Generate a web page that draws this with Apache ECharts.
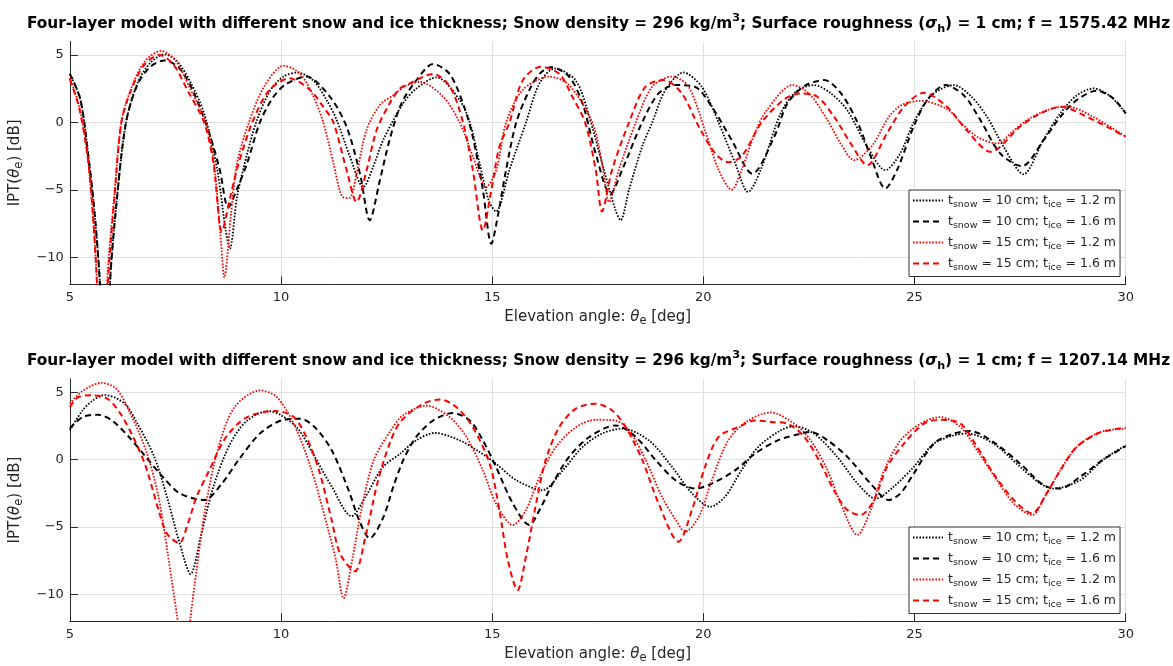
<!DOCTYPE html>
<html><head><meta charset="utf-8">
<script src="https://cdn.jsdelivr.net/npm/echarts@6/dist/echarts.min.js"></script>
<style>html,body{margin:0;padding:0;background:#fff}#c{width:1173px;height:666px}</style>
</head><body><div id="c"></div>
<script>
// ---------- data ----------
const xTicks = [5, 10, 15, 20, 25, 30];
const yTicks = [-10, -5, 0, 5];
const freqs = ['1575.42', '1207.14'];
const snowCm = ['10', '10', '15', '15'];
const iceM = ['1.2', '1.6', '1.2', '1.6'];

// top panel (f = 1575.42 MHz)
const topS10I12 = [[5.0,3.6],[5.25,1.7],[5.45,-2.8],[5.6,-7.2],[5.72,-12.5],[5.83,-25],[5.95,-12],[6.12,-5.5],[6.33,0],[6.6,2.9],[6.9,4.4],[7.24,5.05],[7.55,4.5],[7.87,2.9],[8.18,0.67],[8.49,-3.5],[8.69,-8],[8.79,-9.36],[8.96,-5.5],[9.2,-2.3],[9.43,0.17],[9.75,2.4],[10.06,3.4],[10.38,3.7],[10.77,3.1],[11.08,1.66],[11.32,0.17],[11.63,-2.5],[11.95,-4.8],[12.18,-3.3],[12.42,-1.3],[12.89,1.4],[13.2,2.5],[13.68,3.34],[14.23,1.66],[14.47,0],[14.7,-3.0],[14.92,-5.8],[15.09,-6.6],[15.41,-3.5],[15.8,0],[16.12,2.9],[16.48,4.0],[16.98,3.1],[17.3,0.4],[17.6,-3.0],[17.92,-6.5],[18.04,-7.25],[18.24,-5],[18.55,-1.8],[18.79,0],[19.1,2.4],[19.53,3.7],[19.96,2.65],[20.36,0],[20.75,-3],[21.06,-5.15],[21.36,-3.5],[21.83,0.67],[22.2,2.3],[22.62,2.77],[23.0,2.2],[23.41,0.9],[23.88,-1.8],[24.31,-3.54],[24.66,-2.3],[24.98,0],[25.4,2.0],[25.93,2.77],[26.35,1.9],[26.72,0.4],[27.11,-1.8],[27.58,-3.84],[28.05,-1.3],[28.45,0.67],[28.84,2.0],[29.24,2.52],[29.65,1.9],[30,0.67]];
const topS10I16 = [[5.0,3.6],[5.25,1.7],[5.45,-2.8],[5.6,-7.2],[5.72,-12.5],[5.83,-25],[5.95,-12],[6.12,-5.5],[6.33,0],[6.6,2.8],[6.9,4.1],[7.24,4.6],[7.6,4.0],[7.95,2.1],[8.3,-0.8],[8.55,-3.5],[8.75,-6.3],[8.95,-5.0],[9.2,-3.0],[9.5,0],[9.8,1.8],[10.1,2.8],[10.6,3.4],[11.16,1.9],[11.55,-0.3],[11.87,-3.8],[12.1,-7.25],[12.34,-4.3],[12.57,-1.3],[12.85,1.4],[13.2,3.1],[13.6,4.33],[13.99,3.6],[14.31,1.4],[14.54,-1.06],[14.78,-5],[14.98,-9.0],[15.13,-7],[15.33,-3.5],[15.57,0],[15.88,2.4],[16.12,3.6],[16.39,4.1],[16.82,3.4],[17.14,1.4],[17.45,-2.3],[17.8,-5.3],[18.08,-3.5],[18.55,0],[18.94,2.15],[19.34,2.77],[19.8,2.65],[20.2,1.16],[20.67,-1.3],[21.16,-3.8],[21.68,-1.06],[21.99,1.4],[22.39,2.7],[22.86,3.14],[23.25,2.2],[23.65,0],[23.96,-2.5],[24.31,-4.9],[24.59,-3.5],[24.98,-0.3],[25.3,1.66],[25.73,2.77],[26.17,2.0],[26.56,0.17],[27.03,-2.3],[27.54,-3.24],[28.06,-1.3],[28.45,0.4],[28.84,1.66],[29.31,2.35],[29.7,1.8],[30,0.67]];
const topS15I12 = [[5.0,3.3],[5.22,1.2],[5.42,-2.5],[5.55,-7.0],[5.65,-12.5],[5.76,-25],[5.88,-12],[6.05,-5.5],[6.22,0],[6.45,2.5],[6.77,4.5],[7.16,5.3],[7.5,4.6],[7.85,2.5],[8.22,0],[8.41,-3.0],[8.57,-8.5],[8.66,-11.5],[8.81,-7],[8.96,-3],[9.24,0],[9.6,2.65],[10.06,4.2],[10.46,3.6],[10.77,1.9],[11.0,0],[11.24,-3],[11.45,-5.5],[11.62,-5.6],[11.79,-3.8],[12.02,-0.6],[12.34,1.3],[12.65,2.0],[12.95,2.7],[13.29,3.0],[13.84,1.9],[14.23,0],[14.54,-2.5],[14.86,-4.8],[15.1,-3.5],[15.33,0],[15.72,2.4],[16.35,3.4],[16.82,2.77],[17.37,0],[17.6,-3],[17.77,-5.9],[18.0,-3.5],[18.4,0],[18.79,2.65],[19.26,3.4],[19.65,2.65],[20.04,-0.6],[20.36,-3.5],[20.67,-5.0],[20.91,-3.5],[21.22,-0.8],[21.5,0.9],[22.11,2.77],[22.5,2.15],[22.94,0.17],[23.25,-1.56],[23.57,-2.8],[24.0,-1.7],[24.39,0.4],[24.7,1.3],[25.14,1.6],[25.77,1.0],[26.09,0],[26.48,-1.06],[26.95,-1.56],[27.35,-0.6],[27.66,0.17],[28.13,0.9],[28.6,1.2],[29.24,0.4],[30,-1.06]];
const topS15I16 = [[5.0,3.2],[5.22,1.1],[5.42,-2.5],[5.55,-7.0],[5.65,-12.5],[5.77,-25],[5.9,-12],[6.06,-5.5],[6.22,0],[6.45,2.4],[6.77,4.3],[7.12,5.0],[7.45,4.3],[7.8,2.3],[8.18,0],[8.4,-3.0],[8.6,-8.1],[8.8,-5.5],[9.0,-3.0],[9.32,0],[9.7,2.3],[10.2,3.27],[10.69,2.4],[11.0,1.16],[11.24,0],[11.55,-3.5],[11.79,-5.9],[12.03,-3.5],[12.26,-0.6],[12.57,1.4],[12.81,2.5],[13.05,2.9],[13.6,3.6],[14.0,2.65],[14.31,0],[14.54,-3.5],[14.78,-8.0],[14.98,-5.0],[15.17,-1.8],[15.41,0],[15.72,3.1],[16.15,4.13],[16.59,3.6],[16.9,1.9],[17.2,0],[17.45,-3.5],[17.6,-6.6],[17.84,-3.5],[18.24,0],[18.63,2.65],[19.06,3.14],[19.49,2.15],[19.89,-0.3],[20.28,-2.3],[20.59,-2.95],[20.91,-2.5],[21.38,0],[21.91,1.7],[22.3,2.15],[22.7,1.9],[23.1,0.4],[23.49,-1.56],[23.88,-3.17],[24.35,-0.8],[24.75,1.16],[25.22,2.2],[25.77,1.16],[26.24,-0.6],[26.8,-2.18],[27.5,-0.3],[27.98,0.67],[28.45,1.16],[29.24,0.17],[30,-1.06]];

// bottom panel (f = 1207.14 MHz)
const botS10I12 = [[5.0,2.17],[5.3,3.65],[5.55,4.4],[5.82,4.8],[6.3,4.15],[6.6,2.67],[7.0,0.2],[7.3,-2.77],[7.6,-6.2],[7.86,-8.5],[8.1,-5.7],[8.4,-2.0],[8.8,1.2],[9.2,2.9],[9.7,3.6],[10.0,3.3],[10.4,2.3],[10.8,0.2],[11.2,-2.0],[11.67,-4.2],[12.0,-2.77],[12.4,-0.6],[12.82,0.44],[13.2,1.43],[13.64,1.98],[14.23,1.43],[14.7,0.57],[15.09,-0.3],[15.57,-1.53],[16.19,-2.27],[16.67,-0.8],[17.14,0.94],[17.6,1.93],[18.08,2.3],[18.71,1.43],[19.26,-0.54],[19.73,-2.5],[20.16,-3.5],[20.51,-2.77],[20.9,-0.8],[21.3,0.94],[21.83,2.17],[22.15,2.47],[22.62,1.93],[23.17,0.2],[23.65,-1.78],[24.08,-2.9],[24.51,-2.0],[24.98,-0.54],[25.46,1.19],[25.93,1.8],[26.24,1.93],[26.87,1.19],[27.5,-0.54],[27.98,-1.78],[28.29,-2.15],[28.92,-1.53],[29.47,0],[30,1.06]];
const botS10I16 = [[5.0,2.3],[5.3,3.16],[5.67,3.33],[6.0,2.9],[6.4,1.68],[6.8,0.2],[7.2,-1.28],[7.6,-2.5],[8.18,-3.0],[8.6,-1.78],[9.0,0],[9.5,1.93],[10.0,2.9],[10.46,3.04],[10.8,2.4],[11.2,0.7],[11.6,-2.27],[11.85,-4.5],[12.1,-5.85],[12.42,-4.3],[12.66,-2.0],[12.9,0],[13.2,1.68],[13.6,2.9],[14.07,3.46],[14.47,2.9],[14.78,1.43],[15.09,-0.54],[15.49,-3.26],[15.88,-4.86],[16.12,-3.75],[16.43,-1.78],[16.82,0.2],[17.3,1.68],[17.92,2.54],[18.4,1.68],[18.86,0],[19.34,-1.53],[19.81,-2.15],[20.2,-1.78],[20.75,-0.8],[21.22,0.44],[21.76,1.43],[22.31,1.93],[22.54,2.05],[22.94,1.43],[23.41,0.2],[23.96,-1.78],[24.39,-3.0],[24.67,-2.5],[24.98,-1.04],[25.46,1.19],[25.93,1.93],[26.32,2.12],[26.87,1.3],[27.5,-0.3],[28.06,-1.9],[28.45,-2.15],[28.92,-1.28],[29.47,0],[30,1.0]];
const botS15I12 = [[5.0,4.15],[5.3,5.1],[5.75,5.7],[6.1,5.26],[6.4,3.65],[6.8,0.7],[7.1,-2.77],[7.4,-8.7],[7.55,-11.9],[7.7,-16],[7.85,-11.9],[8.0,-8.2],[8.2,-3.75],[8.5,0.7],[8.9,3.9],[9.51,5.14],[9.9,4.64],[10.3,2.67],[10.7,-0.54],[11.1,-5.0],[11.3,-7.45],[11.48,-10.3],[11.7,-7.2],[11.9,-3.75],[12.2,0],[12.6,2.17],[12.89,3.3],[13.45,4.0],[13.99,3.16],[14.39,1.68],[14.78,-0.8],[15.09,-3.26],[15.49,-4.86],[15.8,-3.75],[16.12,-1.28],[16.51,0.94],[16.98,2.4],[17.45,2.96],[17.92,2.9],[18.24,2.17],[18.63,0],[19.02,-2.77],[19.34,-4.44],[19.57,-5.36],[19.89,-4.25],[20.2,-1.53],[20.59,1.43],[21.06,2.9],[21.6,3.5],[22.15,2.67],[22.54,1.43],[22.94,-0.8],[23.25,-3.26],[23.65,-5.6],[23.96,-3.75],[24.28,-0.8],[24.67,1.43],[25.14,2.67],[25.61,3.16],[26.09,2.42],[26.48,0.7],[26.95,-1.53],[27.35,-3.26],[27.78,-4.12],[28.13,-2.5],[28.45,-0.8],[28.84,0.94],[29.39,2.05],[30,2.3]];
const botS15I16 = [[5.0,3.9],[5.2,4.64],[5.5,4.77],[5.9,4.5],[6.2,3.4],[6.5,1.68],[6.8,-0.54],[7.1,-3.75],[7.3,-5.5],[7.59,-6.2],[7.8,-4.7],[8.0,-2.77],[8.3,-0.8],[8.7,1.68],[9.2,3.16],[9.9,3.6],[10.3,3.16],[10.6,1.68],[10.9,-0.8],[11.2,-4.5],[11.4,-7.0],[11.75,-8.3],[12.0,-5.7],[12.3,-1.53],[12.6,1.43],[12.85,2.9],[13.37,4.15],[13.76,4.47],[14.15,3.9],[14.54,2.42],[14.94,-0.3],[15.17,-3.75],[15.37,-7.45],[15.6,-9.7],[15.8,-7.2],[16.04,-3.26],[16.27,0],[16.59,2.42],[16.98,3.78],[17.45,4.15],[17.84,3.65],[18.16,2.42],[18.55,0],[18.94,-3.26],[19.41,-6.1],[19.73,-3.75],[20.04,-0.54],[20.36,1.68],[20.83,2.42],[21.22,2.9],[21.6,2.8],[21.99,2.67],[22.39,1.68],[22.78,-0.3],[23.09,-2.27],[23.41,-3.75],[23.72,-4.12],[24.04,-3.0],[24.35,-0.54],[24.75,1.19],[25.22,2.67],[25.61,2.96],[26.09,2.67],[26.48,0.94],[26.87,-1.04],[27.35,-3.0],[27.78,-4.0],[28.13,-2.5],[28.45,-0.8],[28.84,0.94],[29.39,2.0],[30,2.37]];

const panels = [
  [topS10I12, topS10I16, topS15I12, topS15I16],
  [botS10I12, botS10I16, botS15I12, botS15I16]
];

// ---------- styles ----------
const FONT = 'DejaVu Sans';
const TXT = '#262626';
const lineStyles = [
  {color: '#000000', width: 1.8, type: [1.6, 1.6]},
  {color: '#000000', width: 2, type: [6, 4]},
  {color: '#ff0000', width: 1.8, type: [1.6, 1.6]},
  {color: '#ff0000', width: 2, type: [6, 4]}
];
const gridRects = [
  {left: 65, top: 41.5, width: 1060.7, height: 242.8},
  {left: 65, top: 378.8, width: 1060.7, height: 242.4}
];
const titleTops = [13, 350];
const legendTops = [190, 527];

const names = snowCm.map((s, i) => 'tsnow = ' + s + ' cm; tice = ' + iceM[i] + ' m');

const titleRich = {
  b: {fontFamily: FONT, fontWeight: 'bold', fontSize: 15.3, color: '#000', lineHeight: 22},
  bi: {fontFamily: FONT, fontWeight: 'bold', fontStyle: 'italic', fontSize: 15.3, color: '#000', lineHeight: 22},
  sup: {fontFamily: FONT, fontWeight: 'bold', fontSize: 11.2, color: '#000', lineHeight: 10, verticalAlign: 'top'},
  sub: {fontFamily: FONT, fontWeight: 'bold', fontSize: 11.2, color: '#000', lineHeight: 5, verticalAlign: 'bottom'}
};
const labRich = {
  n: {fontFamily: FONT, fontSize: 15, color: TXT, lineHeight: 20},
  i: {fontFamily: FONT, fontSize: 15, fontStyle: 'italic', color: TXT, lineHeight: 20},
  s: {fontFamily: FONT, fontSize: 11.5, color: TXT, lineHeight: 6, verticalAlign: 'bottom'}
};
const legRich = {
  n: {fontFamily: FONT, fontSize: 12.5, color: TXT, lineHeight: 18},
  s: {fontFamily: FONT, fontSize: 9.5, color: TXT, lineHeight: 6, verticalAlign: 'bottom'}
};

const option = {
  animation: false,
  backgroundColor: '#ffffff',
  title: freqs.map((f, k) => ({
    left: 27, top: titleTops[k], padding: 0,
    text: '{b|Four-layer model with different snow and ice thickness; Snow density = 296 kg/m}{sup|3}{b|; Surface roughness (}{bi|σ}{sub|h}{b|) = 1 cm; f = ' + f + ' MHz}',
    textStyle: {rich: titleRich, fontFamily: FONT, fontWeight: 'bold', fontSize: 15.3}
  })),
  grid: gridRects.map(r => Object.assign({containLabel: false}, r)),
  legend: legendTops.map(t => ({
    orient: 'vertical', left: 909, top: t, data: names, selectedMode: false,
    itemWidth: 30, itemHeight: 10, itemGap: 5.5, padding: [4, 4, 4, 3],
    borderColor: '#333333', borderWidth: 1, backgroundColor: '#ffffff',
    itemStyle: {opacity: 0, borderWidth: 0},
    formatter: name => {
      const i = names.indexOf(name);
      return '{n|t}{s|snow}{n| = ' + snowCm[i] + ' cm; t}{s|ice}{n| = ' + iceM[i] + ' m}';
    },
    textStyle: {rich: legRich, fontFamily: FONT, fontSize: 12.5, color: TXT}
  })),
  xAxis: gridRects.map((r, k) => ({
    type: 'value', gridIndex: k, min: xTicks[0], max: xTicks[xTicks.length - 1], interval: 5,
    axisLine: {show: true, onZero: false, lineStyle: {color: TXT, width: 1}},
    axisTick: {show: true, inside: true, length: 8, lineStyle: {color: TXT}},
    axisLabel: {fontFamily: FONT, fontSize: 13, color: TXT, margin: 7},
    splitLine: {show: true, lineStyle: {color: '#dfdfdf', width: 1}},
    name: '{n|Elevation angle: }{i|θ}{s|e}{n| [deg]}',
    nameLocation: 'middle', nameGap: 23,
    nameTextStyle: {rich: labRich, fontFamily: FONT, fontSize: 15, color: TXT}
  })),
  yAxis: gridRects.map((r, k) => ({
    type: 'value', gridIndex: k, min: -12, max: 6,
    axisLine: {show: true, onZero: false, lineStyle: {color: TXT, width: 1}},
    axisTick: {show: true, inside: true, length: 8, customValues: yTicks, lineStyle: {color: TXT}},
    axisLabel: {fontFamily: FONT, fontSize: 13, color: TXT, margin: 6, customValues: yTicks,
      formatter: v => String(v).replace('-', '\u2212')},
    splitLine: {show: true, lineStyle: {color: '#dfdfdf', width: 1}},
    name: '{n|IPT(}{i|θ}{s|e}{n|) [dB]}',
    nameLocation: 'middle', nameGap: 36,
    nameTextStyle: {rich: labRich, fontFamily: FONT, fontSize: 15, color: TXT}
  })),
  series: []
};

panels.forEach((set, k) => {
  set.forEach((data, i) => {
    option.series.push({
      name: names[i], type: 'line', xAxisIndex: k, yAxisIndex: k,
      data: data, symbol: 'none', showSymbol: false, smooth: 0.3, clip: true,
      lineStyle: Object.assign({}, lineStyles[i]),
      itemStyle: {color: lineStyles[i].color},
      emphasis: {disabled: true}, z: 2 + i
    });
  });
});

const chart = echarts.init(document.getElementById('c'), null, {renderer: 'canvas'});
chart.setOption(option);
</script>
</body></html>
